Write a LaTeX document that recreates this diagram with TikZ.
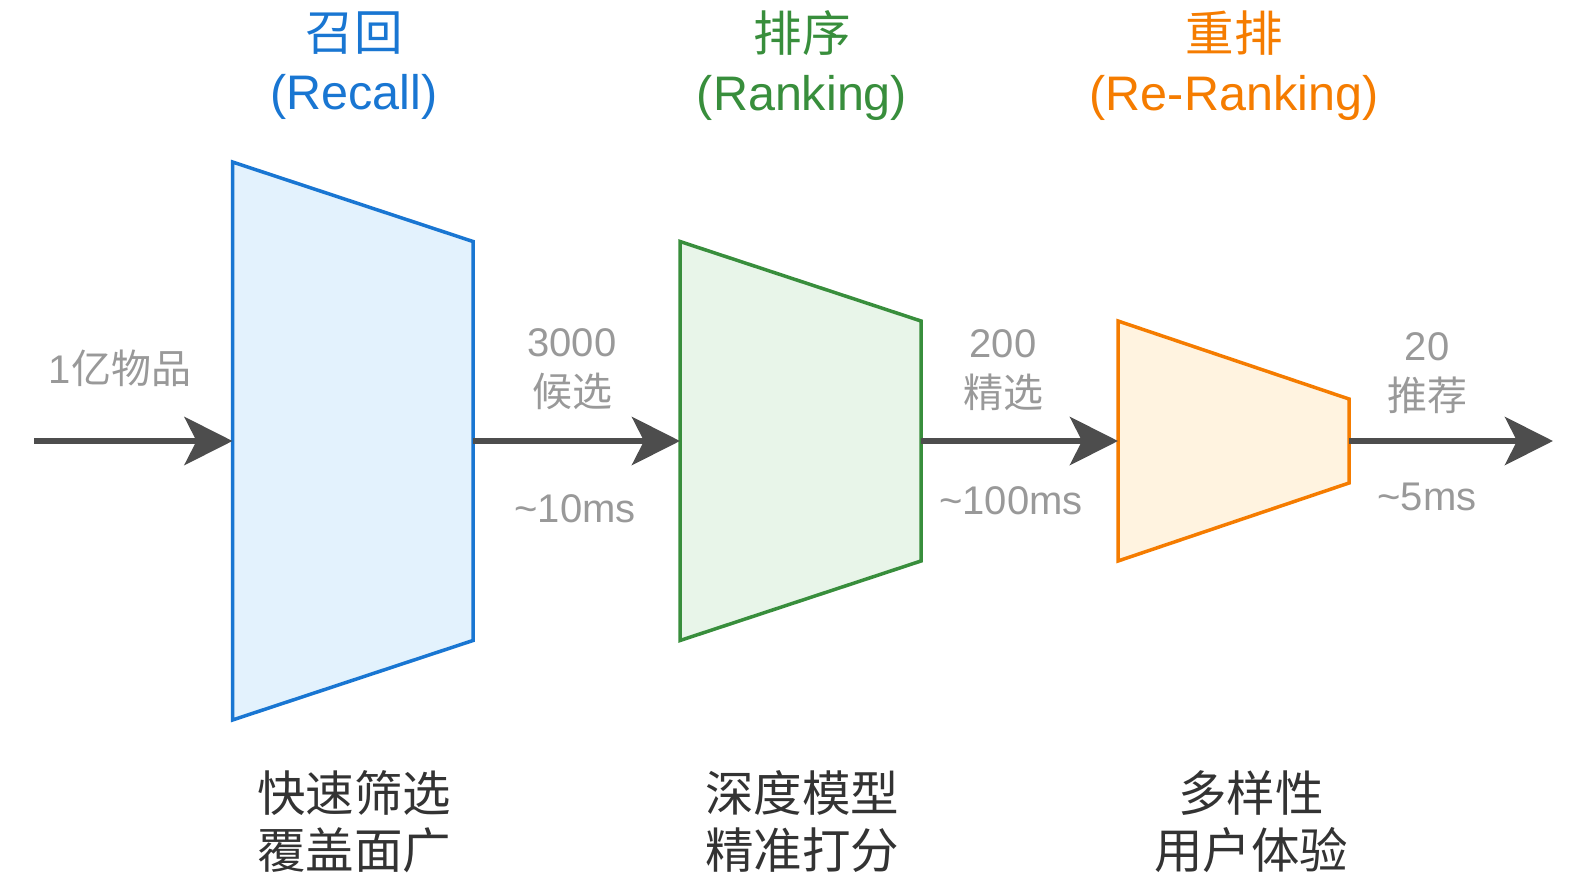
\documentclass[tikz,border=0pt]{standalone}
\usepackage{fontspec}
\setmainfont{Liberation Sans}
\newfontfamily\cjk{Noto Sans CJK SC}
\usetikzlibrary{arrows.meta, positioning, calc}
\definecolor{recallblue}{HTML}{1976D2}
\definecolor{recallfill}{HTML}{E3F2FD}
\definecolor{rankgreen}{HTML}{388E3C}
\definecolor{rankfill}{HTML}{E8F5E9}
\definecolor{rerankorange}{HTML}{F57C00}
\definecolor{rerankfill}{HTML}{FFF3E0}
\definecolor{arrowgray}{HTML}{4D4D4D}
\definecolor{labelgray}{HTML}{999999}
\definecolor{notegray}{HTML}{333333}
\tikzset{
  stage/.style={line width=3.5pt, line join=miter},
  flow/.style={line width=6.5pt, draw=arrowgray, -{Stealth[length=48pt, width=48pt, inset=12pt]}},
  title/.style={align=center, font=\fontsize{48.5}{59}\selectfont, inner sep=0pt},
  count/.style={align=center, font=\fontsize{40}{50}\selectfont, text=labelgray, inner sep=0pt},
  note/.style={align=center, font=\fontsize{48.5}{57}\selectfont\cjk, text=notegray, inner sep=0pt}
}

\begin{document}
\begin{tikzpicture}[x=1pt, y=-1pt]
    \useasboundingbox (0,0) rectangle (1592,896);

    % 1. Embudos (recall, ranking, re-ranking)
    \foreach \n/\xl/\xr/\hl/\hr/\col/\fil in {
        rec/232.5/473/279/199.5/recallblue/recallfill,
        rank/680/921/199.5/120/rankgreen/rankfill,
        rerank/1118/1349/120/42/rerankorange/rerankfill%
    } {
        \draw[stage, draw=\col, fill=\fil] (\xl,441-\hl) -- (\xr,441-\hr) -- (\xr,441+\hr) -- (\xl,441+\hl) -- cycle;
        \coordinate (\n-l) at (\xl,441);
        \coordinate (\n-r) at (\xr,441);
    }

    % 2. Flechas
    \coordinate (src) at (34,441);
    \coordinate (dst) at (1553,441);
    \draw[flow] (src) -- (rec-l);
    \draw[flow] (rec-r) -- (rank-l);
    \draw[flow] (rank-r) -- (rerank-l);
    \draw[flow] (rerank-r) -- (dst);

    % 3. Titulos
    \node[title, text=recallblue] (rec-title) at (354,66) {{\cjk 召回}\\(Recall)};
    \node[title, text=rankgreen] (rank-title) at (802,66) {{\cjk 排序}\\(Ranking)};
    \node[title, text=rerankorange] (rerank-title) at (1234,66) {{\cjk 重排}\\(Re-Ranking)};

    % 4. Cantidades y latencias
    \node[count] (items) at (120,368) {1{\cjk 亿物品}};
    \node[count] (cand) at (572,369) {3000\\{\cjk 候选}};
    \node[count] (cand-t) at (575,509) {\textasciitilde10ms};
    \node[count] (sel) at (1003,370) {200\\{\cjk 精选}};
    \node[count] (sel-t) at (1011,501) {\textasciitilde100ms};
    \node[count] (rec-out) at (1427,373) {20\\{\cjk 推荐}};
    \node[count] (rec-out-t) at (1427,497) {\textasciitilde5ms};

    % 5. Descripciones
    \node[note] (rec-note) at (354,822) {快速筛选\\覆盖面广};
    \node[note] (rank-note) at (802,822) {深度模型\\精准打分};
    \node[note] (rerank-note) at (1251,822) {多样性\\用户体验};

\end{tikzpicture}
\end{document}
